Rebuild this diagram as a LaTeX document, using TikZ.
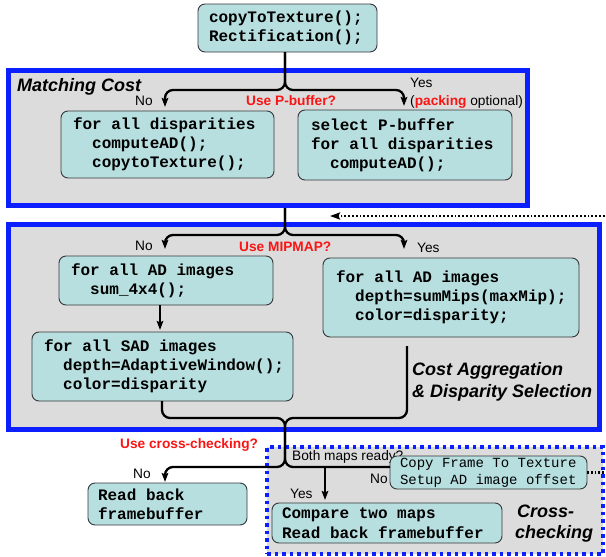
\documentclass[tikz,border=0pt]{standalone}
\usepackage{fontspec}
\setmainfont{Liberation Sans}
\setmonofont{Liberation Mono}
\usetikzlibrary{arrows.meta}

\definecolor{frameblue}{RGB}{12,32,255}
\definecolor{panelgray}{RGB}{220,220,220}
\definecolor{cellteal}{RGB}{184,223,224}
\definecolor{cellline}{RGB}{55,55,55}
\definecolor{askred}{RGB}{250,20,20}

\newcommand\codefont{\ttfamily\bfseries\fontsize{16}{19}\selectfont}
\newcommand\widecode{\ttfamily\bfseries\fontsize{16}{20}\selectfont}
\newcommand\smallcode{\ttfamily\fontsize{14}{17}\selectfont}
% one character cell of blank space, and a two-cell indent
\newcommand\ws{\hspace{0.6em}}
\newcommand\ind{\hspace*{1.2em}}

\begin{document}
\begin{tikzpicture}[x=1pt,y=-1pt,
  panel/.style={draw=frameblue, line width=5pt, fill=panelgray, anchor=north west,
    inner sep=0pt, outer sep=0pt},
  dotpanel/.style={panel, line width=3.5pt, dash pattern=on 3.5pt off 4pt},
  cell/.style={draw=cellline, line width=0.9pt, fill=cellteal, rounded corners=7pt,
    anchor=north west, inner ysep=0pt, outer sep=0pt, align=left, font=\codefont},
  tag/.style={anchor=base west, inner sep=0pt, font=\fontsize{13.7}{16}\selectfont},
  ask/.style={tag, text=askred, font=\bfseries\fontsize{13.7}{16}\selectfont},
  stage/.style={anchor=base west, inner sep=0pt, font=\bfseries\itshape\fontsize{18}{21}\selectfont},
  flow/.style={line width=2.3pt, rounded corners=8pt},
  arr/.style={flow, -{Stealth[length=9pt,width=6.5pt,inset=1.5pt]}},
  hint/.style={line width=2.2pt, dash pattern=on 1.8pt off 2pt,
    -{Stealth[length=10pt,width=7pt,inset=1.5pt]}}
]
\useasboundingbox (0,0) rectangle (606,557);

% stage panels
\node[panel, minimum width=519pt, minimum height=135pt] (mcpanel) at (8.5,70.5) {};
\node[panel, minimum width=591pt, minimum height=205pt] (capanel) at (8.5,224.5) {};
\node[dotpanel, minimum width=336pt, minimum height=107pt] (ccpanel) at (267,447) {};

% branching points and columns
\coordinate (fork1) at (285,90);
\coordinate (fork2) at (285,235);
\coordinate (merge) at (285,418);
\coordinate (fork3) at (285,467);
\coordinate (colL) at (165,0);
\coordinate (colR) at (404,0);
\coordinate (adx) at (160,0);
\coordinate (sadx) at (162,0);
\coordinate (yesx) at (325,0);
\coordinate (aggtop) at (407,346);
\coordinate (loopcorner) at (610,216);
\coordinate (loopin) at (330,216);

% labels
\node[stage] (mctitle) at (17,91) {Matching Cost};
\node[tag] (no1) at (135,105) {No};
\node[ask] (q1) at (246,105) {Use P-buffer?};
\node[tag] (yes1) at (410,87) {Yes};
\node[tag] (pack) at (410,105) {(\textcolor{askred}{\bfseries packing} optional)};
\node[tag] (no2) at (135,250) {No};
\node[ask] (q2) at (239,251) {Use MIPMAP?};
\node[tag] (yes2) at (417,252) {Yes};
\node[stage] (agg1) at (412,375) {Cost Aggregation};
\node[stage] (agg2) at (412,397) {\& Disparity Selection};
\node[ask] (q3) at (120,448) {Use cross-checking?};
\node[tag] (ready) at (292,460) {Both maps ready?};
\node[tag] (no3) at (133,478) {No};
\node[tag] (no4) at (370,483) {No};
\node[tag] (yes3) at (290,498) {Yes};
\node[stage] (cc1) at (517,517) {Cross-};
\node[stage] (cc2) at (515,538) {checking};

% code cells
\node[cell, text width=157pt, inner xsep=11pt, minimum height=48pt] (init) at (198,4)
  {copyToTexture();\\Rectification();};
\node[cell, text width=189pt, inner xsep=12pt, minimum height=67pt] (mcl) at (61,111)
  {for\ws all\ws disparities\\\ind computeAD();\\\ind copytoTexture();};
\node[cell, text width=188pt, inner xsep=13pt, minimum height=70pt] (mcr) at (298,110)
  {select\ws P-buffer\\for\ws all\ws disparities\\\ind computeAD();};
\node[cell, text width=190pt, inner xsep=12pt, minimum height=49pt] (ad) at (59,256)
  {for\ws all\ws AD\ws images\\\ind sum\_4x4();};
\node[cell, text width=237pt, inner xsep=12pt, minimum height=69pt] (sad) at (32,332)
  {for\ws all\ws SAD\ws images\\\ind depth=AdaptiveWindow();\\\ind color=disparity};
\node[cell, text width=230pt, inner xsep=13pt, minimum height=79pt] (mip) at (323,258)
  {for\ws all\ws AD\ws images\\\ind depth=sumMips(maxMip);\\\ind color=disparity;};
\node[cell, text width=139pt, inner xsep=10pt, minimum height=42pt] (rb) at (88,483)
  {Read\ws back\\framebuffer};
\node[cell, font=\smallcode, text width=177pt, inner xsep=10pt, minimum height=33pt] (copy) at (390,456)
  {Copy\ws Frame\ws To\ws Texture\\Setup\ws AD\ws image\ws offset};
\node[cell, font=\widecode, text width=210pt, inner xsep=10pt, minimum height=40pt] (cmp) at (272,503)
  {Compare\ws two\ws maps\\Read\ws back\ws framebuffer};

% connectors
\draw[arr, shorten >=4pt] (init.south -| fork1) -- (fork1) -| (mcl.north -| colL);
\draw[arr, shorten >=4pt] (init.south -| fork1) -- (fork1) -| (mcr.north -| colR);
\draw[arr, shorten <=2.5pt, shorten >=7pt] (mcpanel.south -| fork2) -- (fork2) -| (ad.north -| colL);
\draw[arr, shorten <=2.5pt, shorten >=9pt] (mcpanel.south -| fork2) -- (fork2) -| (mip.north -| colR);
\draw[arr, line width=2pt, shorten >=2pt] (ad.south -| adx) -- (sad.north -| adx);
\draw[arr, shorten >=1pt] (sad.south -| sadx) |- (merge) -- (fork3) -| (rb.north -| colL);
\draw[flow] (aggtop) |- (merge) -- (fork3) -- (copy.west |- fork3);
\draw[arr, line width=2pt, shorten >=3pt] (yesx |- fork3) -- (cmp.north -| yesx);
\draw[hint] (copy.east) -| (loopcorner) -- (loopin);
\end{tikzpicture}
\end{document}
